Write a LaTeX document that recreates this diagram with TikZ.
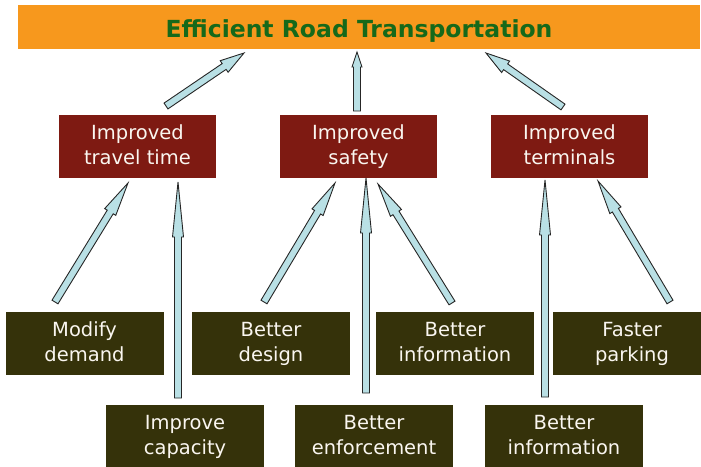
\documentclass[tikz,border=0pt]{standalone}
\usepackage{fontspec}
\setmainfont{DejaVu Sans}
\usetikzlibrary{calc}
\definecolor{barorange}{HTML}{F7981D}
\definecolor{titlegreen}{HTML}{16691A}
\definecolor{midred}{HTML}{7E1A12}
\definecolor{lowolive}{HTML}{35320A}
\definecolor{arrowfill}{HTML}{B9E0E5}
\definecolor{boxtext}{HTML}{FAF6F0}
\newcommand\blockarr[5]{%
  \coordinate (hb) at ($(#2)!#5!(#1)$);
  \draw[barrow] ($(#1)!#3!90:(#2)$) -- ($(hb)!#3!90:(#2)$) -- ($(hb)!#4!90:(#2)$)
    -- (#2) -- ($(hb)!#4!-90:(#2)$) -- ($(hb)!#3!-90:(#2)$) -- ($(#1)!#3!-90:(#2)$) -- cycle;
}
\newcommand\twolines[2]{\strut #1\\\strut #2}
\tikzset{
  midbox/.style={fill=midred, text=boxtext, minimum width=157pt, minimum height=63pt,
    inner sep=0pt, align=center, font=\fontsize{19.5}{25}\selectfont},
  lowbox/.style={fill=lowolive, text=boxtext, minimum width=158pt, minimum height=63pt,
    inner sep=0pt, align=center, font=\fontsize{19.5}{25}\selectfont},
  barrow/.style={fill=arrowfill, draw=black!85, line width=0.9pt, line join=miter},
}
\begin{document}
\begin{tikzpicture}[x=1pt, y=-1pt]
\useasboundingbox (0,0) rectangle (701,466);
\node[fill=barorange, minimum width=682pt, minimum height=44pt, inner sep=0pt,
  text height=21pt, text depth=0pt,
  text=titlegreen, font=\fontsize{23.5}{28}\selectfont\bfseries] (top) at (359,27) {Efficient Road Transportation};

\node[midbox] (tt) at (137.5,146.5) {\twolines{Improved}{travel time}};
\node[midbox] (sf) at (358.5,146.5) {\twolines{Improved}{safety}};
\node[midbox] (tm) at (569.5,146.5) {\twolines{Improved}{terminals}};

\node[lowbox] (md) at (84.5,343.5) {\twolines{Modify}{demand}};
\node[lowbox] (bd) at (271,343.5) {\twolines{Better}{design}};
\node[lowbox] (bi) at (455,343.5) {\twolines{Better}{information}};
\node[lowbox] (fp) at (632,343.5) {\twolines{Faster}{parking}};

\node[lowbox] (ic) at (185,436.5) {\twolines{Improve}{capacity}};
\node[lowbox] (be) at (374,436.5) {\twolines{Better}{enforcement}};
\node[lowbox] (bj) at (564,436.5) {\twolines{Better}{information}};

% arrow end points
\coordinate (a1t) at (166,106); \coordinate (a1h) at (244,53);
\coordinate (a2t) at (357,111); \coordinate (a2h) at (357,52);
\coordinate (a3t) at (563,107); \coordinate (a3h) at (486,53);
\coordinate (b1t) at (55,302);  \coordinate (b1h) at (128,183);
\coordinate (b2t) at (178,398); \coordinate (b2h) at (178,182);
\coordinate (b3t) at (264,302); \coordinate (b3h) at (335,183);
\coordinate (b4t) at (366,393); \coordinate (b4h) at (366,178);
\coordinate (b5t) at (452,303); \coordinate (b5h) at (378,184);
\coordinate (b6t) at (545,397); \coordinate (b6h) at (545,180);
\coordinate (b7t) at (670,302); \coordinate (b7h) at (598,181);

\blockarr{a1t}{a1h}{3.5pt}{7pt}{24pt}
\blockarr{a2t}{a2h}{3.5pt}{5pt}{15pt}
\blockarr{a3t}{a3h}{3.5pt}{7pt}{24pt}
\blockarr{b1t}{b1h}{3.5pt}{6.5pt}{34pt}
\blockarr{b2t}{b2h}{3.5pt}{5.5pt}{55pt}
\blockarr{b3t}{b3h}{3.5pt}{6.5pt}{34pt}
\blockarr{b4t}{b4h}{3.5pt}{5.5pt}{55pt}
\blockarr{b5t}{b5h}{3.5pt}{6.5pt}{34pt}
\blockarr{b6t}{b6h}{3.5pt}{5.5pt}{55pt}
\blockarr{b7t}{b7h}{3.5pt}{6.5pt}{34pt}
\end{tikzpicture}
\end{document}
